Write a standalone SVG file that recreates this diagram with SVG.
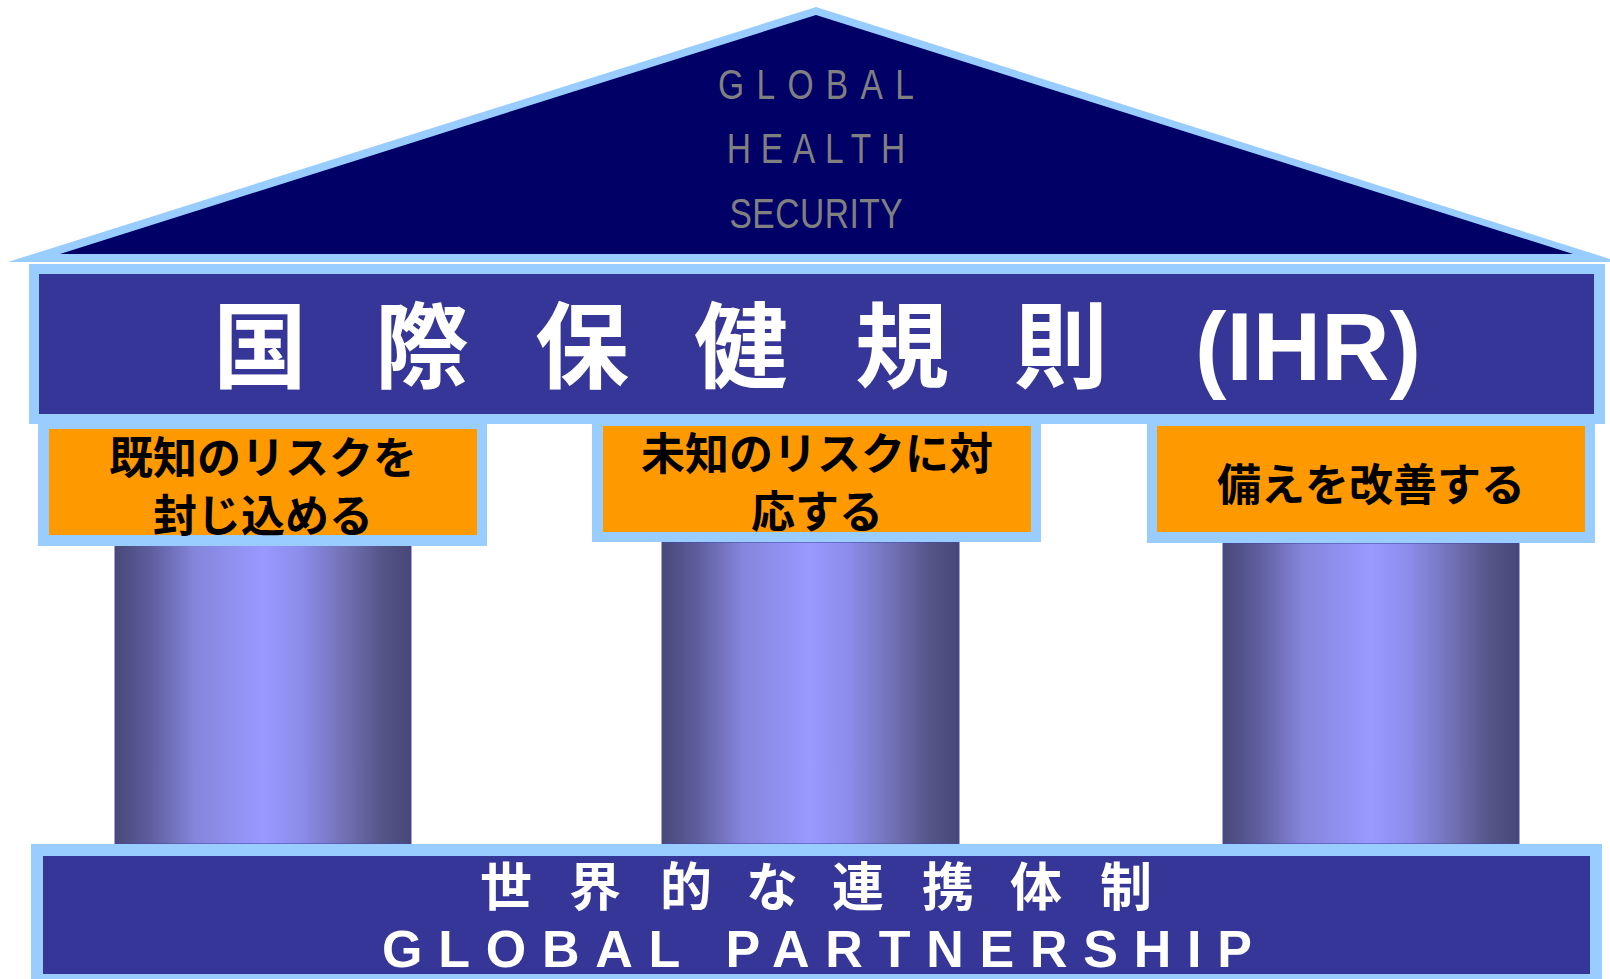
<svg xmlns="http://www.w3.org/2000/svg" width="1610" height="979" viewBox="0 0 1610 979">
<style>
.lb{fill:#99CCFF}
.navy{fill:#363699}
.org{fill:#FF9900}
.roof{font-family:"Liberation Sans",Arial,sans-serif;font-size:43px;fill:#808080}
.jp{font-family:"Noto Sans CJK JP","Noto Sans CJK SC",sans-serif;font-weight:bold}
.box{font-size:44px;fill:#000000;text-anchor:middle}
.wt{fill:#FFFFFF}
.pillar{fill:url(#pg);stroke:#4444AA;stroke-width:1}
</style>
<defs>
<linearGradient id="pg" x1="0" y1="0" x2="1" y2="0">
<stop offset="0" stop-color="#484878"/>
<stop offset="0.12" stop-color="#5E5E9E"/>
<stop offset="0.27" stop-color="#8585DC"/>
<stop offset="0.5" stop-color="#9999FF"/>
<stop offset="0.63" stop-color="#8C8CEB"/>
<stop offset="0.78" stop-color="#7070B4"/>
<stop offset="0.9" stop-color="#55558A"/>
<stop offset="1" stop-color="#474777"/>
</linearGradient>
</defs>

<g id="roof">
<polygon class="lb" points="8,262 816,7 1610,259 1610,262"/>
<polygon fill="#000066" points="60,254 816,15 1573,254"/>
<text class="roof" transform="translate(816 99) scale(0.78 1)" text-anchor="middle" textLength="251" lengthAdjust="spacing">GLOBAL</text>
<text class="roof" transform="translate(816 163) scale(0.78 1)" text-anchor="middle" textLength="229" lengthAdjust="spacing">HEALTH</text>
<text class="roof" transform="translate(816 228) scale(0.78 1)" text-anchor="middle" textLength="222" lengthAdjust="spacing">SECURITY</text>
</g>

<g id="ihr">
<rect class="lb" x="29" y="264" width="1576" height="160"/>
<rect class="navy" x="39" y="274" width="1555" height="140"/>
<text class="jp wt" font-size="94" text-anchor="middle" x="260 422 582 741 902 1061" y="381">国際保健規則</text>
<text class="wt" font-family="Liberation Sans, Arial, sans-serif" font-weight="bold" font-size="96" x="1195" y="380" textLength="226" lengthAdjust="spacingAndGlyphs">(IHR)</text>
</g>

<g id="pillar1"><rect class="pillar" x="115" y="545" width="296" height="299"/></g>
<g id="pillar2"><rect class="pillar" x="662" y="542" width="297" height="302"/></g>
<g id="pillar3"><rect class="pillar" x="1223" y="543" width="296" height="301"/></g>

<g id="box1">
<rect class="lb" x="38" y="424" width="449" height="122"/>
<rect class="org" x="49" y="429" width="428" height="106"/>
<text class="jp box" x="263" y="474">既知のリスクを</text>
<text class="jp box" x="263" y="532">封じ込める</text>
</g>

<g id="box2">
<rect class="lb" x="592" y="424" width="449" height="118"/>
<rect class="org" x="603" y="426" width="428" height="106"/>
<text class="jp box" x="817" y="470">未知のリスクに対</text>
<text class="jp box" x="817" y="528">応する</text>
</g>

<g id="box3">
<rect class="lb" x="1147" y="424" width="448" height="119"/>
<rect class="org" x="1157" y="426" width="428" height="106"/>
<text class="jp box" x="1371" y="501">備えを改善する</text>
</g>

<g id="base">
<rect class="lb" x="31" y="844" width="1571" height="135"/>
<rect class="navy" x="43" y="856" width="1547" height="118"/>
<text class="jp wt" font-size="52" text-anchor="middle" x="506 595 686 772 858 948 1036 1126" y="906">世界的な連携体制</text>
<text class="wt" font-family="Liberation Sans, Arial, sans-serif" font-weight="bold" font-size="52" text-anchor="middle" x="817" y="967" textLength="870" lengthAdjust="spacing">GLOBAL PARTNERSHIP</text>
</g>

<g id="connectors"></g>
</svg>
